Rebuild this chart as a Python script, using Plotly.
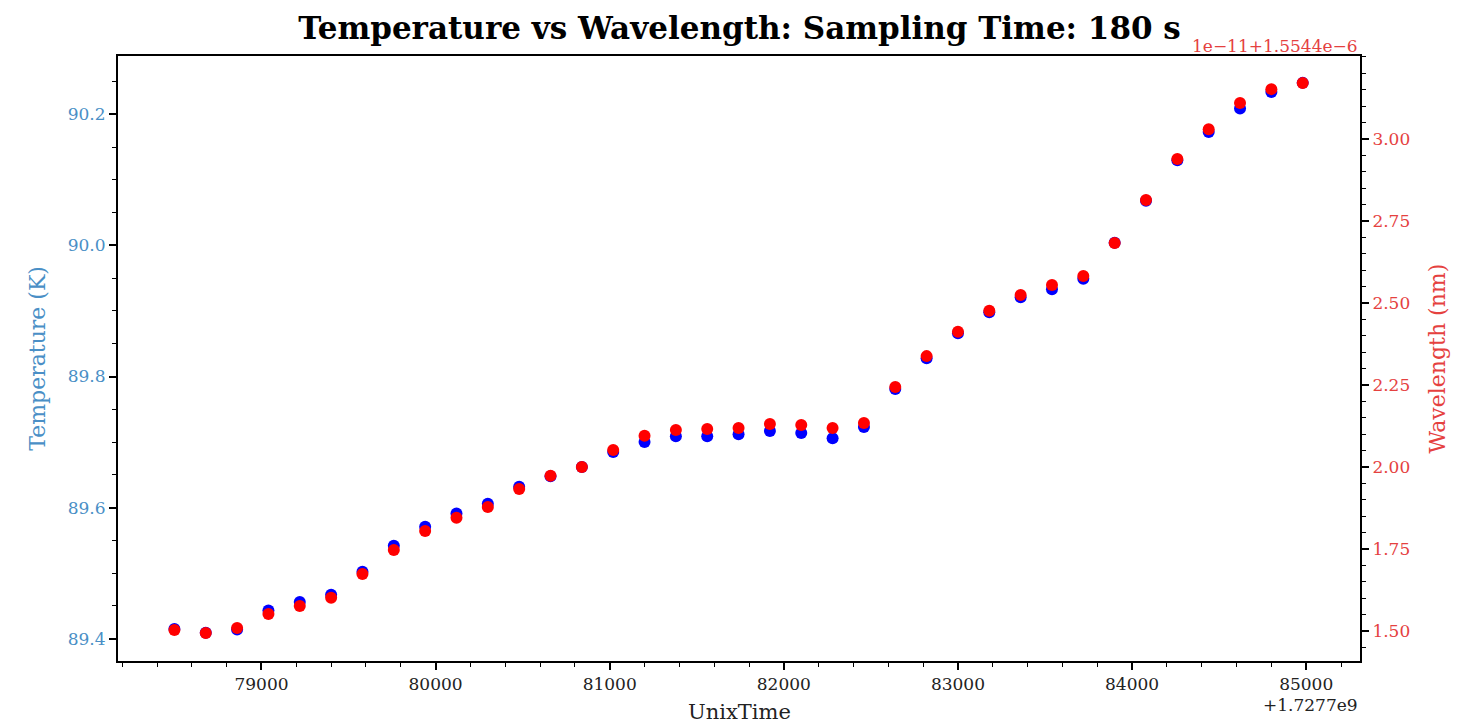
# Temperature vs Wavelength scatter, twin y axes

import plotly.graph_objects as go

# UnixTime minus 1.7277e9 (s)
unix_time = [78500, 78680, 78860, 79040, 79220, 79400, 79580, 79760, 79940, 80120,
             80300, 80480, 80660, 80840, 81020, 81200, 81380, 81560, 81740, 81920,
             82100, 82280, 82460, 82640, 82820, 83000, 83180, 83360, 83540, 83720,
             83900, 84080, 84260, 84440, 84620, 84800, 84980]

temperature = [89.415, 89.409, 89.414, 89.443, 89.456, 89.467, 89.502, 89.542, 89.571, 89.591,
               89.606, 89.632, 89.648, 89.662, 89.685, 89.700, 89.709, 89.709, 89.712, 89.717,
               89.714, 89.706, 89.723, 89.781, 89.828, 89.866, 89.898, 89.921, 89.933, 89.949,
               90.004, 90.068, 90.130, 90.173, 90.209, 90.234, 90.248]

# wavelength minus 1.5544e-6, in units of 1e-11
wavelength = [1.503, 1.494, 1.509, 1.552, 1.576, 1.601, 1.674, 1.747, 1.805, 1.845,
              1.878, 1.933, 1.973, 2.000, 2.052, 2.095, 2.113, 2.116, 2.119, 2.131,
              2.128, 2.119, 2.134, 2.244, 2.338, 2.412, 2.476, 2.524, 2.555, 2.582,
              2.683, 2.814, 2.939, 3.030, 3.110, 3.152, 3.171]

blue_txt = "#4a8fc6"
red_txt = "#e5413f"
serif = "DejaVu Serif"

fig = go.Figure()
fig.add_trace(go.Scatter(x=unix_time, y=temperature, mode="markers",
                         marker=dict(color="blue", size=12), name="Temperature"))
fig.add_trace(go.Scatter(x=unix_time, y=wavelength, mode="markers", yaxis="y2",
                         marker=dict(color="red", size=12), name="Wavelength"))

# page body has an 8px margin, so the figure is a bit smaller than the window
fig.update_layout(
    width=1463, height=717,
    margin=dict(l=110, r=111, t=48, b=64),
    paper_bgcolor="white", plot_bgcolor="white",
    showlegend=False,
    font=dict(family=serif, size=17, color="black"),
    title=dict(text="<b>Temperature vs Wavelength: Sampling Time: 180 s</b>",
               x=0.5, xanchor="center", y=0.972, yanchor="middle",
               font=dict(family=serif, size=31, color="black")),
    xaxis=dict(range=[78176, 85309], tickvals=[79000, 80000, 81000, 82000, 83000, 84000, 85000],
               tickformat="d", showgrid=False, zeroline=False,
               showline=True, linecolor="black", linewidth=2, mirror=True,
               ticks="outside", ticklen=7, tickwidth=1.5, tickcolor="black",
               minor=dict(dtick=200, ticks="outside", ticklen=4, tickcolor="black", tickwidth=1),
               tickfont=dict(family=serif, size=17, color="#222")),
    yaxis=dict(range=[89.366, 90.289], tickvals=[89.4, 89.6, 89.8, 90.0, 90.2], tickformat=".1f",
               showgrid=False, zeroline=False,
               showline=True, linecolor="black", linewidth=2,
               ticks="outside", ticklen=7, tickwidth=1.5, tickcolor="black",
               minor=dict(dtick=0.05, tick0=89.4, ticks="outside", ticklen=4, tickcolor="black", tickwidth=1),
               tickfont=dict(family=serif, size=17, color=blue_txt)),
    yaxis2=dict(range=[1.4085, 3.253], tickvals=[1.50, 1.75, 2.00, 2.25, 2.50, 2.75, 3.00],
                tickformat=".2f", overlaying="y", side="right",
                showgrid=False, zeroline=False,
                showline=True, linecolor="black", linewidth=2,
                ticks="outside", ticklen=7, tickwidth=1.5, tickcolor="black",
                minor=dict(dtick=0.05, tick0=1.5, ticks="outside", ticklen=4, tickcolor="black", tickwidth=1),
                tickfont=dict(family=serif, size=17, color=red_txt)),
)

fig.add_annotation(text="UnixTime", xref="paper", yref="paper", x=0.5, y=-0.085,
                   xanchor="center", yanchor="middle", showarrow=False,
                   font=dict(family=serif, size=21, color="#222"))
fig.add_annotation(text="+1.7277e9", xref="paper", yref="paper", x=1.0, y=-0.073,
                   xanchor="right", yanchor="middle", showarrow=False,
                   font=dict(family=serif, size=17, color="#222"))
fig.add_annotation(text="Temperature (K)", xref="paper", yref="paper", x=-0.065, y=0.5,
                   xanchor="center", yanchor="middle", textangle=-90, showarrow=False,
                   font=dict(family=serif, size=22, color=blue_txt))
fig.add_annotation(text="Wavelength (nm)", xref="paper", yref="paper", x=1.062, y=0.5,
                   xanchor="center", yanchor="middle", textangle=-90, showarrow=False,
                   font=dict(family=serif, size=22, color=red_txt))
fig.add_annotation(text="1e\u221211+1.5544e\u22126", xref="paper", yref="paper", x=1.0, y=1.0,
                   xanchor="right", yanchor="bottom", yshift=-2, showarrow=False,
                   font=dict(family=serif, size=17, color=red_txt))

fig.write_html("out.html")
